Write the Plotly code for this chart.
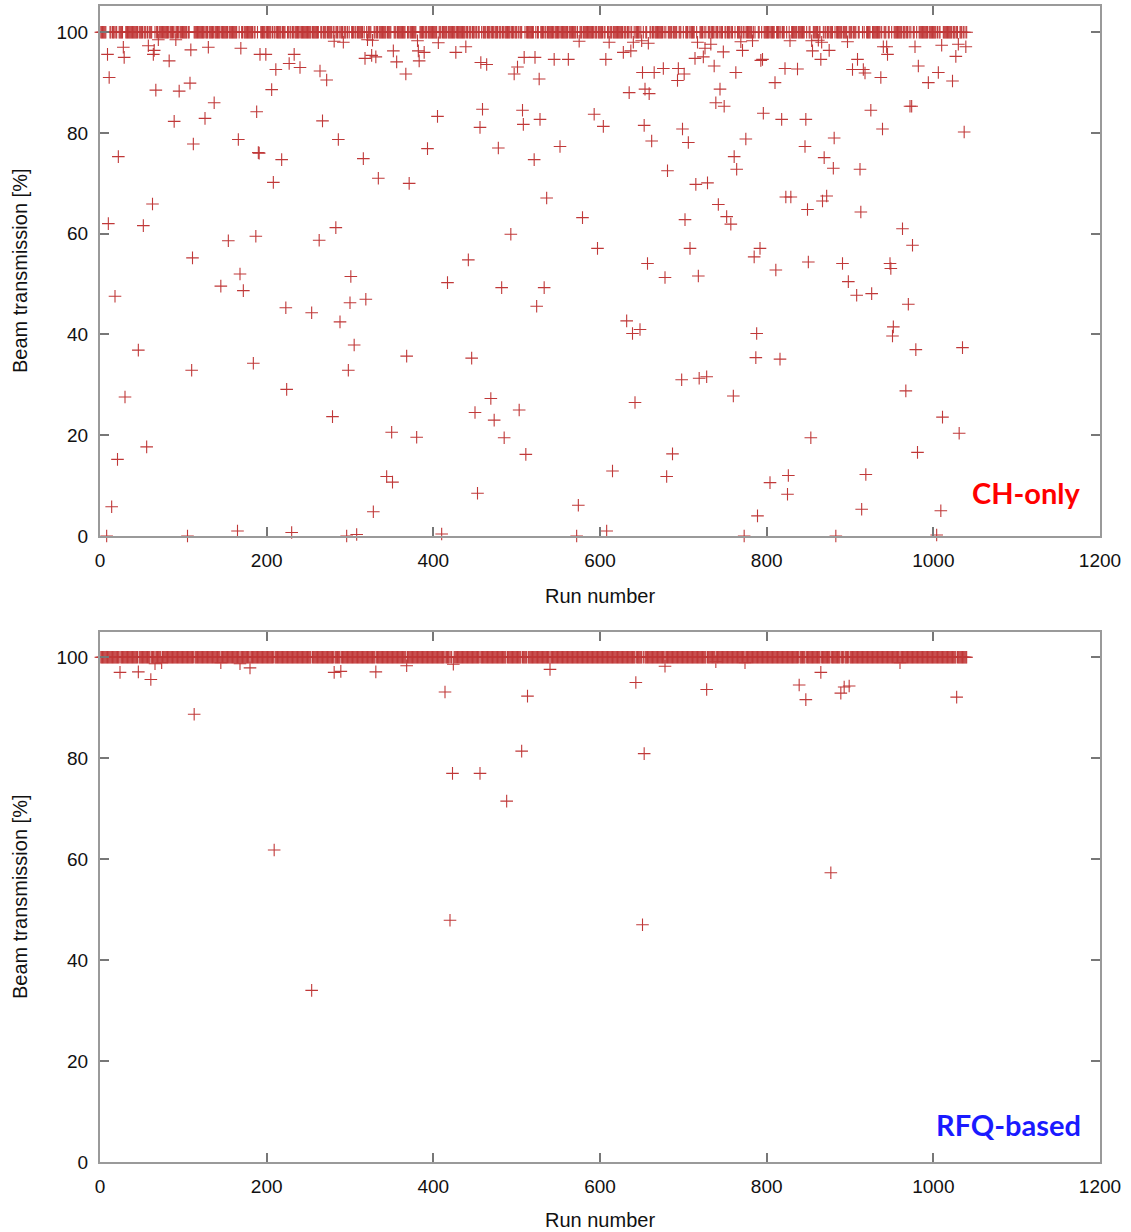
import plotly.graph_objects as go

# ---------------- data ----------------
N_RUNS = 1040          # runs shown in both panels
BASELINE = 100.0       # the dense band of runs at full transmission

# CH-only: runs that fall below the 100 % band
ch_runs = [9, 28, 29, 11, 22, 10, 18, 58, 65, 64, 70, 67, 63, 52, 83, 89, 95, 108, 109, 112,
           111, 91, 126, 130, 137, 145, 154, 166, 169, 168, 172, 188, 190, 191, 187, 192, 199,
           206, 208, 211, 218, 227, 233, 240, 263, 264, 267, 272, 286, 283, 301, 281, 292, 316,
           319, 334, 223, 254, 300, 288, 305, 46, 184, 110, 298, 224, 30, 279, 56, 21, 14, 328,
           8, 105, 165, 230, 296, 308, 318, 326, 331, 321, 327, 352, 356, 367, 371, 381, 380,
           382, 389, 383, 393, 405, 406, 417, 427, 439, 442, 457, 456, 464, 459, 478, 482, 493,
           497, 501, 509, 522, 521, 507, 508, 527, 528, 533, 536, 545, 562, 552, 575, 579, 593,
           597, 604, 607, 611, 628, 637, 635, 640, 639, 650, 658, 651, 665, 676, 654, 659, 653,
           662, 657, 678, 681, 693, 694, 701, 699, 706, 702, 708, 718, 719, 715, 729, 717, 714,
           726, 733, 748, 724, 737, 744, 739, 749, 761, 764, 742, 752, 757, 763, 524, 368, 446,
           632, 648, 469, 450, 503, 473, 698, 728, 642, 760, 350, 351, 485, 511, 687, 615, 680,
           344, 453, 574, 410, 572, 608, 769, 783, 771, 793, 795, 796, 810, 811, 828, 829, 822,
           823, 837, 818, 847, 846, 855, 865, 854, 862, 875, 881, 869, 880, 912, 913, 866, 867,
           897, 898, 909, 903, 916, 918, 919, 937, 925, 939, 940, 944, 945, 972, 974, 978, 982,
           994, 1006, 1023, 1010, 1011, 1030, 1039, 1027, 1037, 775, 872, 849, 963, 975, 792,
           785, 850, 891, 908, 926, 948, 949, 970, 952, 951, 788, 787, 816, 979, 1035, 967, 1031,
           853, 981, 804, 826, 825, 914, 1009, 789, 773, 883, 1004]
ch_vals = [95.6, 97.0, 95.0, 91.0, 75.3, 62.0, 47.6, 97.3, 96.4, 95.6, 98.5, 88.5, 65.9, 61.6,
           94.3, 82.3, 88.3, 89.9, 96.5, 77.8, 55.2, 98.5, 82.9, 97.0, 86.0, 49.6, 58.6, 78.7,
           96.8, 52.0, 48.7, 84.2, 76.1, 76.0, 59.5, 95.6, 95.6, 88.6, 70.2, 92.6, 74.7, 93.8,
           95.6, 93.0, 58.7, 92.3, 82.4, 90.5, 78.7, 61.2, 51.5, 98.2, 98.0, 74.9, 47.0, 71.0,
           45.3, 44.3, 46.3, 42.5, 37.9, 36.9, 34.3, 32.9, 32.9, 29.1, 27.6, 23.7, 17.7, 15.2,
           5.8, 4.8, 0.0, 0.0, 1.0, 0.7, 0.0, 0.3, 94.8, 95.4, 95.1, 98.5, 98.4, 96.3, 94.1,
           91.7, 70.0, 98.3, 19.6, 96.3, 96.0, 94.3, 76.9, 83.3, 97.9, 50.3, 96.0, 97.1, 54.8,
           94.0, 81.1, 93.6, 84.7, 77.0, 49.3, 59.9, 91.7, 93.1, 95.0, 95.0, 74.7, 84.5, 81.7,
           90.7, 82.7, 49.3, 67.1, 94.6, 94.6, 77.3, 98.2, 63.2, 83.7, 57.1, 81.3, 94.6, 98.0,
           96.0, 96.3, 88.0, 98.0, 40.2, 98.3, 97.8, 92.0, 92.0, 92.8, 88.7, 87.8, 81.5, 78.4,
           54.1, 51.3, 72.5, 90.4, 92.8, 91.7, 80.8, 78.1, 62.8, 57.1, 51.6, 31.3, 69.8, 70.1,
           98.0, 94.8, 96.8, 97.6, 96.1, 95.1, 93.3, 88.7, 86.0, 85.3, 75.3, 72.8, 65.8, 63.4,
           61.9, 92.0, 45.6, 35.7, 35.3, 42.7, 41.0, 27.3, 24.5, 25.0, 23.0, 31.0, 31.6, 26.5,
           27.8, 20.6, 10.7, 19.5, 16.2, 16.3, 12.9, 11.8, 11.8, 8.5, 6.1, 0.4, 0.0, 1.0, 98.1,
           98.3, 96.4, 94.4, 94.6, 83.9, 90.0, 52.8, 98.3, 67.3, 92.8, 67.3, 92.7, 82.7, 82.7,
           77.3, 96.3, 94.6, 98.3, 98.4, 96.4, 79.0, 75.1, 73.0, 72.8, 64.3, 98.0, 66.5, 98.1,
           50.5, 94.6, 92.6, 92.6, 91.9, 12.2, 91.0, 84.5, 80.8, 97.1, 97.1, 95.6, 85.3, 85.3,
           97.1, 93.3, 90.0, 92.0, 90.3, 97.4, 23.6, 97.6, 97.1, 95.2, 80.2, 78.8, 67.5, 64.8,
           61.0, 57.7, 57.1, 55.4, 54.4, 54.1, 47.8, 48.1, 54.1, 53.1, 46.0, 41.5, 39.7, 40.2,
           35.4, 35.1, 37.0, 37.4, 28.8, 20.4, 19.5, 16.6, 10.6, 12.0, 8.3, 5.3, 5.0, 4.0, 0.0,
           0.0, 0.2]

# RFQ-based: runs that fall below the 100 % band
rfq_runs = [24, 46, 61, 66, 74, 113, 145, 168, 180, 209, 254, 281, 289, 331, 368, 414, 420,
            423, 424, 456, 488, 506, 513, 540, 643, 651, 653, 678, 728, 739, 774, 839, 847,
            865, 877, 889, 893, 899, 960, 1028]
rfq_vals = [97.0, 97.1, 95.6, 98.7, 98.9, 88.7, 98.9, 98.7, 97.9, 61.8, 34.0, 97.0, 97.2,
            97.1, 98.3, 93.1, 47.9, 77.0, 98.6, 77.0, 71.5, 81.4, 92.3, 97.6, 95.0, 47.0,
            80.9, 98.2, 93.6, 99.1, 98.9, 94.5, 91.6, 97.0, 57.3, 92.9, 94.1, 94.3, 98.9, 92.1]

x_ticks = [0, 200, 400, 600, 800, 1000, 1200]
y_ticks = [0, 20, 40, 60, 80, 100]
x_title = "Run number"
y_title = "Beam transmission [%]"
panel_labels = ["CH-only", "RFQ-based"]


def build_series(runs, vals):
    series = {r: BASELINE for r in range(1, N_RUNS + 1)}
    for r, v in zip(runs, vals):
        series[r] = v
    xs = sorted(series)
    return xs, [series[r] for r in xs]


ch_x, ch_y = build_series(ch_runs, ch_vals)
rfq_x, rfq_y = build_series(rfq_runs, rfq_vals)

# ---------------- figure ----------------
W, H = 1131, 1232
ML, MR, MT, MB = 100, 31, 6, 70
PW, PH = W - ML - MR, H - MT - MB


def px(xp):
    return (xp - ML) / PW


def py(yp):
    return 1 - (yp - MT) / PH


MARK = "rgb(192,56,56)"

fig = go.Figure()
marker = dict(symbol="cross-thin", size=9, line=dict(color=MARK, width=1.1), color=MARK)
fig.add_trace(go.Scatter(x=ch_x, y=ch_y, mode="markers", marker=marker,
                         xaxis="x", yaxis="y", cliponaxis=False, showlegend=False))
fig.add_trace(go.Scatter(x=rfq_x, y=rfq_y, mode="markers", marker=marker,
                         xaxis="x2", yaxis="y2", cliponaxis=False, showlegend=False))

top_y0, top_y1 = 6, 536
bot_y0, bot_y1 = 632, 1162

axis_common = dict(showline=True, linecolor="#9a9a9a", linewidth=2, mirror="ticks",
                   ticks="inside", ticklen=9, tickwidth=1.5, tickcolor="#777777",
                   showgrid=False, zeroline=False, automargin=False,
                   tickfont=dict(family="Arial, Liberation Sans, sans-serif", size=19, color="#111"))

fig.update_layout(
    width=W, height=H,
    margin=dict(l=ML, r=MR, t=MT, b=MB, autoexpand=False),
    paper_bgcolor="white", plot_bgcolor="white",
    xaxis=dict(domain=[0, 1], range=[0, 1200], tickvals=x_ticks, anchor="y",
               ticklabelstandoff=6, **axis_common),
    yaxis=dict(domain=[py(top_y1), py(top_y0)], range=[0, 105.2], tickvals=y_ticks,
               anchor="x", ticklabelstandoff=6, **axis_common),
    xaxis2=dict(domain=[0, 1], range=[0, 1200], tickvals=x_ticks, anchor="y2",
                ticklabelstandoff=6, **axis_common),
    yaxis2=dict(domain=[py(bot_y1), py(bot_y0)], range=[0, 105], tickvals=y_ticks,
                anchor="x2", ticklabelstandoff=6, **axis_common),
)

title_font = dict(family="Arial, Liberation Sans, sans-serif", size=20, color="#111")
anns = [
    dict(text=x_title, x=px(600), y=py(596)),
    dict(text=x_title, x=px(600), y=py(1220)),
    dict(text=y_title, x=px(20), y=py(271), textangle=-90),
    dict(text=y_title, x=px(20), y=py(897), textangle=-90),
]
for a in anns:
    fig.add_annotation(xref="paper", yref="paper", showarrow=False,
                       xanchor="center", yanchor="middle", font=title_font, **a)

label_font = dict(family="Lato, Open Sans, sans-serif", size=29, weight="bold")
fig.add_annotation(text=panel_labels[0], xref="paper", yref="paper", x=px(1083), y=py(492),
                   xanchor="right", yanchor="middle", showarrow=False,
                   font=dict(color="#ff0000", **label_font))
fig.add_annotation(text=panel_labels[1], xref="paper", yref="paper", x=px(1083), y=py(1124),
                   xanchor="right", yanchor="middle", showarrow=False,
                   font=dict(color="#1a1aff", **label_font))

fig.write_html("out.html", config={"displayModeBar": False},
               post_script="document.body.style.margin='0';document.body.style.overflow='hidden';")
